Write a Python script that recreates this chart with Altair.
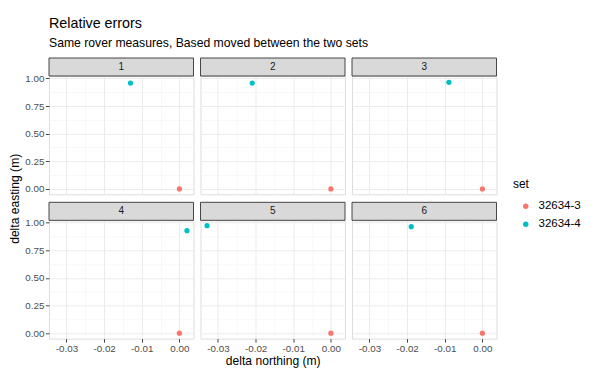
import altair as alt
import pandas as pd

FONT = "Liberation Sans"

# ---------------- data ----------------
panels = ["1", "2", "3", "4", "5", "6"]
sets = ["32634-3", "32634-4"]
set_colors = ["#F8766D", "#00BFC4"]

# set 32634-3: every panel at the origin
north_a = [0.0, 0.0, 0.0, 0.0, 0.0, 0.0]
east_a = [0.0, 0.0, 0.0, 0.0, 0.0, 0.0]
# set 32634-4
north_b = [-0.0130, -0.0209, -0.0089, 0.0020, -0.0329, -0.0189]
east_b = [0.958, 0.958, 0.964, 0.928, 0.973, 0.964]

x_breaks = [-0.03, -0.025, -0.02, -0.015, -0.01, -0.005, 0.0]
y_breaks = [0.0, 0.125, 0.25, 0.375, 0.5, 0.625, 0.75, 0.875, 1.0]

title_text = "Relative errors"
subtitle_text = "Same rover measures, Based moved between the two sets"
x_title = "delta northing (m)"
y_title = "delta easting (m)"
legend_title = "set"

# ---------------- layout ----------------
W = 144.5
H = 118.3
STRIP = 18
COL_GAP = 6.5
ROW_GAP = 25.3
TICK_FS = 9.8

df = pd.DataFrame({
    "panel": panels + panels,
    "set": [sets[0]] * len(panels) + [sets[1]] * len(panels),
    "north": north_a + north_b,
    "east": east_a + east_b,
})

xmin, xmax = df["north"].min(), df["north"].max()
ymin, ymax = df["east"].min(), df["east"].max()
xr, yr = xmax - xmin, ymax - ymin
xdom = [xmin - 0.05 * xr, xmax + 0.05 * xr]
ydom = [ymin - 0.05 * yr, ymax + 0.05 * yr]

x_major = "abs(round(datum.value*200)) % 2 == 0"
y_major = "abs(round(datum.value*8)) % 2 == 0"


def cond(test, a, b):
    return {"condition": {"test": test, "value": a}, "value": b}


def label_expr(test):
    return "(" + test + ") ? replace(format(datum.value, '.2f'), '\u2212', '-') : ''"


color_enc = alt.Color(
    "set:N",
    scale=alt.Scale(domain=sets, range=set_colors),
    legend=alt.Legend(
        title=legend_title,
        orient="none",
        legendX=464.0,
        legendY=103.0,
        padding=0,
        titleFont=FONT,
        titleFontSize=11.9,
        titleFontWeight="normal",
        titleColor="black",
        titlePadding=9.5,
        labelFont=FONT,
        labelFontSize=11.5,
        labelColor="black",
        labelOffset=7,
        symbolType="circle",
        symbolSize=30,
        symbolStrokeWidth=0,
        symbolOffset=7,
        rowPadding=5,
    ),
)


def make_panel(i, p):
    row, col = divmod(i, 3)
    bottom = row == 1
    left = col == 0
    sub = df[df["panel"] == p]

    xa = dict(
        values=x_breaks,
        grid=True,
        gridColor=cond(x_major, "#EBEBEB", "#F3F3F3"),
        gridWidth=cond(x_major, 1.0, 0.6),
        domain=False,
        labelFlush=False,
        labelOverlap=False,
    )
    if bottom:
        xa.update(
            labels=True,
            ticks=True,
            labelExpr=label_expr(x_major),
            tickOpacity=cond(x_major, 1, 0),
            tickColor="#333333",
            tickSize=3.6,
            tickWidth=0.9,
            labelFont=FONT,
            labelFontSize=TICK_FS,
            labelColor="#4D4D4D",
            labelPadding=1,
        )
    else:
        xa.update(labels=False, ticks=False)
    if p == "5":
        xa.update(title=x_title, titleFont=FONT, titleFontSize=12.1,
                  titleFontWeight="normal", titleColor="black", titlePadding=1)
    else:
        xa["title"] = None

    ya = dict(
        values=y_breaks,
        grid=True,
        gridColor=cond(y_major, "#EBEBEB", "#F3F3F3"),
        gridWidth=cond(y_major, 1.0, 0.6),
        domain=False,
        labelFlush=False,
        labelOverlap=False,
    )
    if left:
        ya.update(
            labels=True,
            ticks=True,
            labelExpr=label_expr(y_major),
            tickOpacity=cond(y_major, 1, 0),
            tickColor="#333333",
            tickSize=3.6,
            tickWidth=0.9,
            labelFont=FONT,
            labelFontSize=TICK_FS,
            labelColor="#4D4D4D",
            labelPadding=1.5,
        )
    else:
        ya.update(labels=False, ticks=False)
    if p == "4":
        ya.update(title=y_title, titleFont=FONT, titleFontSize=12.1,
                  titleFontWeight="normal", titleColor="black",
                  titleX=-35, titleY=-22, titleAlign="center",
                  titleBaseline="middle", titleAngle=270)
    else:
        ya["title"] = None

    strip_df = pd.DataFrame({"panel": [p]})
    strip_rect = alt.Chart(strip_df).mark_rect(
        fill="#D9D9D9", stroke="#333333", strokeWidth=0.9
    ).encode(
        x=alt.value(0), x2=alt.value(W), y=alt.value(-STRIP), y2=alt.value(0)
    )
    strip_text = alt.Chart(strip_df).mark_text(
        font=FONT, fontSize=10, color="#1A1A1A", baseline="middle", align="center"
    ).encode(
        x=alt.value(W / 2), y=alt.value(-STRIP / 2), text="panel:N"
    )
    pts = alt.Chart(sub).mark_circle(size=27, opacity=1).encode(
        x=alt.X("north:Q", scale=alt.Scale(domain=xdom, nice=False, zero=False),
                axis=alt.Axis(**xa)),
        y=alt.Y("east:Q", scale=alt.Scale(domain=ydom, nice=False, zero=False),
                axis=alt.Axis(**ya)),
        color=color_enc,
    )
    return alt.layer(strip_rect, strip_text, pts).properties(width=W, height=H)


charts = [make_panel(i, p) for i, p in enumerate(panels)]

chart = alt.concat(
    *charts,
    columns=3,
    spacing={"row": ROW_GAP, "column": COL_GAP},
    bounds="flush",
).properties(
    title=alt.TitleParams(
        text=title_text,
        subtitle=subtitle_text,
        anchor="start",
        frame="group",
        font=FONT,
        fontSize=14.3,
        fontWeight="normal",
        color="black",
        subtitleFont=FONT,
        subtitleFontSize=12.2,
        subtitleColor="black",
        subtitlePadding=6,
        offset=7.8,
    ),
    padding={"left": 7, "top": 16, "right": 5, "bottom": 5},
).configure_view(
    stroke="#333333", strokeWidth=0.9
).configure(background="white")

chart.save("out.html", embed_options={"renderer": "svg", "actions": False})
